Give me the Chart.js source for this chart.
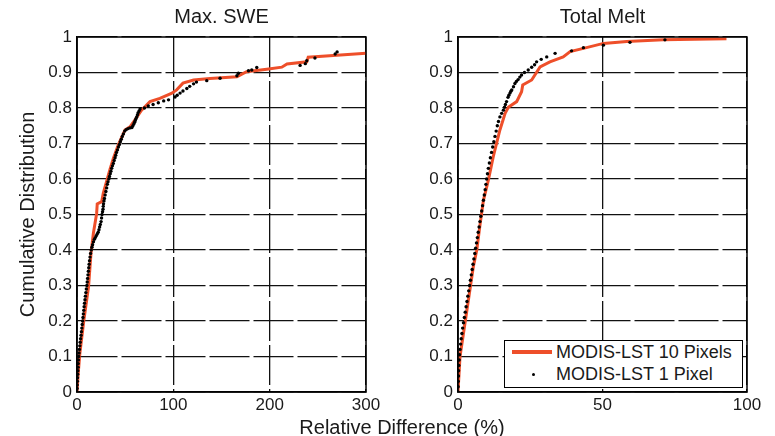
<!DOCTYPE html>
<html>
<head>
<meta charset="utf-8">
<script src="https://cdn.jsdelivr.net/npm/chart.js@4.4.1/dist/chart.umd.min.js"></script>
<style>
  body { margin: 0; background: #fff; }
  #wrap { position: relative; width: 775px; height: 436px; overflow: hidden;
          font-family: "Liberation Sans", Arial, sans-serif; color: #1a1a1a; }
  canvas { position: absolute; top: 0; }
  #c1 { left: 0; }
  #c2 { left: 380px; }
  #xlabel { position: absolute; left: 252px; width: 300px; top: 415px; text-align: center;
            font-size: 20px; line-height: 24px; white-space: nowrap; }
  #legend { position: absolute; left: 504px; top: 340px; width: 237px; height: 46px;
            border: 1px solid #000; background: #fff; font-size: 18px; }
  #legend .row { position: absolute; left: 0; width: 237px; height: 22px; line-height: 22px; }
  #legend .txt { position: absolute; left: 51px; white-space: nowrap; }
  #legend .swatch { position: absolute; left: 7px; top: 9px; width: 40px; height: 4px; background: #ee4f2a; }
  #legend .dot { position: absolute; left: 27px; top: 10px; width: 3px; height: 3px; border-radius: 50%; background: #000; }
</style>
</head>
<body>
<div id="wrap">
  <canvas id="c1" width="380" height="436"></canvas>
  <canvas id="c2" width="395" height="436"></canvas>
  <div id="xlabel">Relative Difference (%)</div>
  <div id="legend">
    <div class="row" style="top:0"><div class="swatch"></div><span class="txt">MODIS-LST 10 Pixels</span></div>
    <div class="row" style="top:22px"><div class="dot"></div><span class="txt">MODIS-LST 1 Pixel</span></div>
  </div>
</div>
<script>
// tick labels
const yTickLabels = ["0", "0.1", "0.2", "0.3", "0.4", "0.5", "0.6", "0.7", "0.8", "0.9", "1"];
const titles = ["Max. SWE", "Total Melt"];
const seriesNames = ["MODIS-LST 10 Pixels", "MODIS-LST 1 Pixel"];

// Max. SWE, 10 pixels (line)
const sweX10 = [0, 1.2, 3, 7, 12, 14.5, 17, 20.4, 21, 25.6, 27.3, 34, 37.7, 42.9, 49.8, 55, 60, 67, 75.8, 86, 98, 103.5, 110, 121, 138, 166, 176, 197, 212.6, 218, 238.5, 240, 266, 300];
const sweY10 = [0, 0.05, 0.11, 0.2, 0.297, 0.39, 0.447, 0.503, 0.53, 0.536, 0.56, 0.625, 0.658, 0.696, 0.738, 0.747, 0.766, 0.794, 0.818, 0.827, 0.841, 0.851, 0.87, 0.879, 0.883, 0.888, 0.902, 0.909, 0.915, 0.924, 0.93, 0.943, 0.948, 0.954];

// Max. SWE, 1 pixel (dots)
const sweX1 = [0, 0.1, 0.2, 0.4, 0.5, 0.7, 0.9, 1.1, 1.3, 1.5, 1.8, 2.1, 2.5, 2.9, 3.3, 3.7, 4.2, 4.6, 5, 5.4,
  5.8, 6.2, 6.6, 7, 7.4, 7.8, 8.3, 8.7, 9.2, 9.7, 10.2, 10.6, 11, 11.4, 11.8, 12.2, 12.6, 13, 13.5, 14.1,
  14.8, 15.5, 16.2, 17.1, 18, 19, 20, 21, 22, 22.8, 23.5, 24.2, 25, 25.5, 26, 26.5, 27, 27.3, 27.5, 28,
  28.5, 29.2, 30, 30.8, 31.5, 32.2, 33, 33.7, 34.5, 35.2, 36, 36.8, 37.7, 38.6, 39.5, 40.2, 41, 42, 43, 44,
  45, 46, 47, 48.2, 49.5, 51, 53, 55, 57, 58, 59, 59.8, 60.5, 61.2, 62, 62.8, 63.5, 64.5, 65.5,
  70, 74, 79, 84.4, 90, 95, 101.8, 104, 107, 110, 114, 117, 121, 124, 134.7, 148.5, 166, 167.5, 178, 181.4, 186.6, 231.6, 237, 238.5, 247, 268, 270];
const sweY1 = [0, 0.01, 0.02, 0.03, 0.04, 0.05, 0.06, 0.07, 0.08, 0.09, 0.1, 0.11, 0.12, 0.13, 0.14, 0.15, 0.16, 0.17, 0.18, 0.19,
  0.2, 0.21, 0.22, 0.23, 0.24, 0.25, 0.26, 0.27, 0.28, 0.29, 0.3, 0.31, 0.32, 0.33, 0.34, 0.35, 0.36, 0.37, 0.38, 0.39,
  0.4, 0.408, 0.415, 0.423, 0.43, 0.435, 0.44, 0.445, 0.45, 0.457, 0.465, 0.472, 0.48, 0.49, 0.5, 0.508, 0.515, 0.523, 0.53, 0.538,
  0.545, 0.555, 0.565, 0.575, 0.585, 0.592, 0.6, 0.607, 0.615, 0.622, 0.63, 0.637, 0.644, 0.652, 0.66, 0.667, 0.675, 0.682, 0.69, 0.697,
  0.705, 0.712, 0.72, 0.727, 0.735, 0.739, 0.742, 0.744, 0.745, 0.75, 0.755, 0.76, 0.765, 0.77, 0.775, 0.781, 0.787, 0.792, 0.797,
  0.8, 0.806, 0.81, 0.815, 0.82, 0.823, 0.831, 0.836, 0.842, 0.848, 0.855, 0.861, 0.868, 0.873, 0.877, 0.884, 0.891, 0.898, 0.905, 0.907, 0.914, 0.92, 0.925, 0.933, 0.941, 0.952, 0.958];

// Total Melt, 10 pixels (line)
const meltX10 = [0, 0.7, 2.4, 3.6, 5.3, 6.5, 7.6, 8.8, 10.5, 12.2, 14.5, 16.3, 17.4, 20.3, 22, 22.4, 25.5, 28.4, 31.8, 36.4, 38.8, 43.4, 50.3, 58.4, 71, 92.9];
const meltY10 = [0, 0.1, 0.193, 0.259, 0.353, 0.4, 0.47, 0.54, 0.597, 0.663, 0.738, 0.785, 0.802, 0.818, 0.846, 0.865, 0.879, 0.916, 0.93, 0.944, 0.959, 0.968, 0.982, 0.987, 0.992, 0.995];

// Total Melt, 1 pixel (dots)
const meltX1 = [0, 0.05, 0.1, 0.15, 0.2, 0.3, 0.4, 0.55, 0.7, 0.9, 1.1, 1.35, 1.6, 1.9, 2.2, 2.5, 2.8, 3.1, 3.4, 3.7,
  4, 4.3, 4.6, 4.9, 5.2, 5.5, 5.8, 6.1, 6.4, 6.7, 7, 7.3, 7.6, 7.9, 8.2, 8.5, 8.8, 9.1, 9.4, 9.65,
  9.9, 10.2, 10.5, 10.85, 11.2, 11.6, 12, 12.4, 12.8, 13.2, 13.6, 14, 14.5, 15.1, 15.7, 16.1, 16.4, 16.8, 17.3, 17.6,
  18, 18.3, 18.6, 19.2, 19.7, 20.2, 20.8, 21.4, 22, 23, 24.3, 25.5, 26.5, 27.2, 28.8, 30.7, 33.6, 39.3, 43.4, 50.3, 59.5, 71.6];
const meltY1 = [0, 0.015, 0.03, 0.045, 0.06, 0.075, 0.09, 0.105, 0.12, 0.135, 0.15, 0.165, 0.18, 0.195, 0.21, 0.225, 0.24, 0.255, 0.27, 0.285,
  0.3, 0.315, 0.33, 0.345, 0.36, 0.375, 0.39, 0.405, 0.42, 0.435, 0.45, 0.465, 0.48, 0.495, 0.51, 0.525, 0.54, 0.555, 0.57, 0.585,
  0.6, 0.615, 0.63, 0.645, 0.66, 0.675, 0.69, 0.705, 0.72, 0.735, 0.75, 0.762, 0.775, 0.785, 0.794, 0.802, 0.81, 0.818, 0.83, 0.836,
  0.842, 0.847, 0.851, 0.86, 0.869, 0.875, 0.88, 0.887, 0.893, 0.9, 0.907, 0.915, 0.922, 0.93, 0.937, 0.944, 0.954, 0.961, 0.97, 0.977, 0.985, 0.992];

const FONT = "'Liberation Sans', Arial, sans-serif";
const INK = "#1a1a1a";

const pairs = (xs, ys) => xs.map((x, i) => ({ x: x, y: ys[i] }));

// box around the axes like matlab
const frame = {
  id: "frame",
  afterDatasetsDraw(chart) {
    const { ctx, chartArea: a } = chart;
    ctx.save();
    ctx.strokeStyle = "#000";
    ctx.lineWidth = 1.5;
    ctx.strokeRect(a.left, a.top, a.right - a.left, a.bottom - a.top);
    ctx.restore();
  }
};

function makeChart(id, title, lineData, dotData, xMax, xStep, yWidth, showYTitle, pad) {
  return new Chart(document.getElementById(id), {
    type: "scatter",
    data: {
      datasets: [
        {
          label: seriesNames[1],
          data: dotData,
          showLine: false,
          pointRadius: 1.7,
          pointBorderWidth: 0,
          pointBackgroundColor: "#000",
          order: 1
        },
        {
          label: seriesNames[0],
          data: lineData,
          showLine: true,
          borderColor: "#ee4f2a",
          borderWidth: 3,
          pointRadius: 0,
          tension: 0,
          order: 2
        }
      ]
    },
    options: {
      responsive: false,
      animation: false,
      layout: { padding: pad },
      plugins: {
        legend: { display: false },
        tooltip: { enabled: false },
        title: {
          display: true,
          text: title,
          fullSize: false,
          color: INK,
          font: { family: FONT, size: 20, weight: "normal" },
          padding: { top: 0, bottom: 8 }
        }
      },
      scales: {
        x: {
          type: "linear",
          min: 0,
          max: xMax,
          grid: { color: "#111", lineWidth: 1.3, drawTicks: false },
          border: { color: "#000", width: 1.5, dash: [40, 4] },
          ticks: { stepSize: xStep, padding: 3, color: INK, font: { family: FONT, size: 17 } },
          afterFit: (s) => { s.height = 44; s.paddingLeft = 0; s.paddingRight = 0; }
        },
        y: {
          min: 0,
          max: 1,
          grid: { color: "#111", lineWidth: 1.3, drawTicks: false },
          border: { color: "#000", width: 1.5, dash: [40, 4] },
          ticks: {
            stepSize: 0.1,
            padding: 5,
            color: INK,
            font: { family: FONT, size: 17 },
            callback: (v, i) => yTickLabels[i]
          },
          title: {
            display: showYTitle,
            text: "Cumulative Distribution",
            color: INK,
            font: { family: FONT, size: 20 },
            padding: { top: 4, bottom: 4 }
          },
          afterFit: (s) => { s.width = yWidth; s.paddingTop = 0; s.paddingBottom = 0; }
        }
      }
    },
    plugins: [frame]
  });
}

makeChart("c1", titles[0], pairs(sweX10, sweY10), pairs(sweX1, sweY1), 300, 100, 65, true,
  { left: 12, right: 14, top: 5, bottom: 0 });
makeChart("c2", titles[1], pairs(meltX10, meltY10), pairs(meltX1, meltY1), 100, 50, 78, false,
  { left: 0, right: 28, top: 5, bottom: 0 });
</script>
</body>
</html>
